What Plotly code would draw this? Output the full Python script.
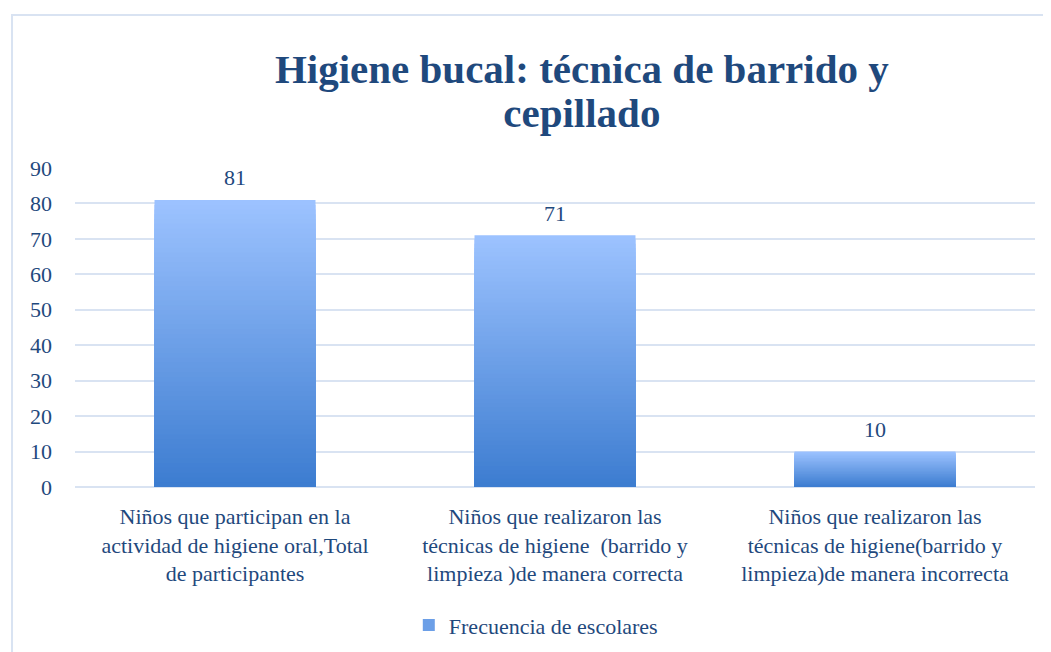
import plotly.graph_objects as go

categories = [
    "Niños que participan en la<br>actividad de higiene oral,Total<br>de participantes",
    "Niños que realizaron las<br>técnicas de higiene  (barrido y<br>limpieza )de manera correcta",
    "Niños que realizaron las<br>técnicas de higiene(barrido y<br>limpieza)de manera incorrecta",
]
values = [81, 71, 10]
series_name = "Frecuencia de escolares"
title_lines = ["Higiene bucal: técnica de barrido y", "cepillado"]

TEXT = "#1F497D"
GRID = "#D9E3F2"
TOP = (157, 195, 255)
BOT = (60, 124, 208)
N = 60


def mix(f):
    r = [round(BOT[i] + (TOP[i] - BOT[i]) * f) for i in range(3)]
    return f"rgb({r[0]},{r[1]},{r[2]})"


fig = go.Figure()
for k in range(N):
    frac = 1 - k / N
    fig.add_trace(go.Bar(
        x=categories,
        y=[v * frac for v in values],
        marker=dict(color=mix(frac - 0.5 / N), line=dict(width=0)),
        name=series_name,
        showlegend=(k == N // 2),
        hoverinfo="skip" if k else "y",
    ))

for c, v in zip(categories, values):
    fig.add_annotation(x=c, y=v, text=str(v), showarrow=False, yshift=22,
                       font=dict(family="Liberation Serif", size=22, color=TEXT))

fig.add_shape(type="rect", xref="paper", yref="paper",
              x0=-0.0656, x1=1.2, y0=-1.0, y1=1.4796,
              line=dict(color=GRID, width=2), fillcolor="rgba(0,0,0,0)", layer="below")

title_text = "<br>".join(f"<span style='font-size:41px'><b>{t}</b></span>" for t in title_lines)

fig.update_layout(
    width=1051, height=652,
    paper_bgcolor="white", plot_bgcolor="white",
    barmode="overlay", bargap=0.497,
    margin=dict(l=67, r=24, t=160, b=173),
    title=dict(text=title_text, x=0.546, xanchor="center", y=0.885, yanchor="middle",
               font=dict(family="Liberation Serif", size=34, color=TEXT)),
    font=dict(family="Liberation Serif", size=22, color=TEXT),
    xaxis=dict(showgrid=False, showline=False, ticks="", ticklabelstandoff=14,
               tickfont=dict(size=22, color=TEXT)),
    yaxis=dict(range=[0, 90], dtick=10, showgrid=True, gridcolor=GRID, gridwidth=2,
               zeroline=True, zerolinecolor=GRID, zerolinewidth=2, showline=False,
               ticks="", ticklabelstandoff=22, tickfont=dict(size=22, color=TEXT)),
    legend=dict(orientation="h", x=0.48, xanchor="center", y=-0.433, yanchor="middle",
                font=dict(size=22, color=TEXT), itemwidth=30),
)

fig.write_html("out.html")
